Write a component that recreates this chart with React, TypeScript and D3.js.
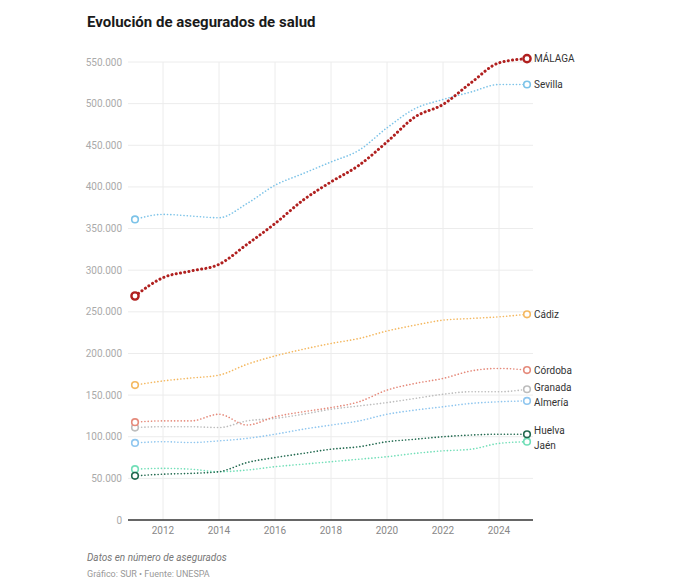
import React from "react";
import * as d3 from "d3";

// Asegurados de salud por provincia (Andalucía), 2011-2025
const years = [2011, 2012, 2013, 2014, 2015, 2016, 2017, 2018, 2019, 2020, 2021, 2022, 2023, 2024, 2025];

const malaga = [269000, 291000, 299000, 307000, 331000, 356000, 384000, 406000, 426000, 454000, 484000, 499000, 525000, 549000, 554000];
const sevilla = [361000, 367000, 365000, 363000, 380000, 402000, 416000, 430000, 444000, 471000, 494000, 505000, 514000, 523000, 523000];
const cadiz = [162000, 167000, 170500, 174000, 187000, 197000, 205000, 212000, 218000, 227000, 234000, 240000, 242000, 244000, 247000];
const cordoba = [117500, 119000, 119000, 127000, 114000, 124000, 130000, 135000, 142000, 156000, 164000, 170000, 179000, 182000, 180000];
const granada = [111000, 112000, 112000, 111000, 119000, 122000, 127000, 133000, 137000, 141000, 146000, 151000, 154000, 154000, 157000];
const almeria = [92500, 94000, 93000, 95000, 98000, 103000, 109000, 114000, 119000, 127000, 132000, 136000, 140000, 142000, 143000];
const huelva = [53000, 55000, 56000, 58000, 69000, 75000, 80000, 85000, 88000, 94000, 97000, 100000, 102000, 103000, 103000];
const jaen = [61000, 62000, 61000, 58000, 60000, 64000, 67000, 70000, 73000, 76000, 80000, 83000, 85000, 92000, 94000];

const provinces = ["MÁLAGA", "Sevilla", "Cádiz", "Córdoba", "Granada", "Almería", "Huelva", "Jaén"];
const seriesValues = [malaga, sevilla, cadiz, cordoba, granada, almeria, huelva, jaen];
const colors = ["#b0201f", "#7cc3e8", "#f4b860", "#e58a7b", "#bdbdbd", "#8fc6ef", "#21694f", "#72dfb8"];

const yTicks = [0, 50000, 100000, 150000, 200000, 250000, 300000, 350000, 400000, 450000, 500000, 550000];
const xTicks = [2012, 2014, 2016, 2018, 2020, 2022, 2024];

const W = 680;
const H = 584;
const plotLeft = 128;
const plotRight = 533;
const font = "Roboto, 'Noto Sans', sans-serif";

export default function App() {
  const x = d3.scaleLinear().domain([2011, 2025]).range([135, 527]);
  const y = d3.scaleLinear().domain([0, 550000]).range([520, 62]);
  const fmt = (v: number) => d3.format(",")(v).replace(/,/g, ".");

  const line = d3
    .line<number>()
    .x((_, i) => x(years[i]))
    .y((d) => y(d))
    .curve(d3.curveMonotoneX);

  // label positions: start at the last value, then push apart so they don't overlap
  const labels = provinces.map((name, i) => {
    const vals = seriesValues[i];
    return { name, i, y: y(vals[vals.length - 1]) };
  });
  labels.sort((a, b) => a.y - b.y);
  const minGap = 15;
  for (let iter = 0; iter < 20; iter++) {
    for (let k = 1; k < labels.length; k++) {
      const a = labels[k - 1];
      const b = labels[k];
      if (b.y - a.y < minGap) {
        const mid = (a.y + b.y) / 2;
        a.y = mid - minGap / 2;
        b.y = mid + minGap / 2;
      }
    }
  }

  return (
    <svg
      width={W}
      height={H}
      style={{ position: "absolute", left: 0, top: 0, background: "#fff" }}
      fontFamily={font}
    >
      <text x={87} y={27} fontSize={15} fontWeight={700} fill="#1a1a1a">
        Evolución de asegurados de salud
      </text>

      {/* vertical grid */}
      {xTicks.map((t) => (
        <line key={"vx" + t} x1={x(t)} x2={x(t)} y1={y(550000)} y2={y(0)} stroke="#ececec" strokeWidth={1} />
      ))}

      {/* horizontal grid + y labels */}
      {yTicks.map((t) => (
        <g key={"y" + t}>
          {t > 0 && <line x1={plotLeft} x2={plotRight} y1={y(t)} y2={y(t)} stroke="#ececec" strokeWidth={1} />}
          <text x={122} y={y(t)} dy="0.35em" textAnchor="end" fontSize={10} fill="#aaaaaa">
            {fmt(t)}
          </text>
        </g>
      ))}

      <line x1={plotLeft} x2={plotRight} y1={y(0)} y2={y(0)} stroke="#333" strokeWidth={1.3} />

      {xTicks.map((t) => (
        <text key={"xt" + t} x={x(t)} y={534} textAnchor="middle" fontSize={10} fill="#888">
          {t}
        </text>
      ))}

      {/* lines */}
      {seriesValues
        .map((vals, i) => ({ vals, i }))
        .reverse()
        .map(({ vals, i }) => {
          const main = i === 0;
          return (
            <g key={"s" + i}>
              <path
                d={line(vals) || ""}
                fill="none"
                stroke={colors[i]}
                strokeWidth={main ? 3 : 1.6}
                strokeDasharray={main ? "0.1 4.2" : "0.1 3.2"}
                strokeLinecap="round"
              />
              {[0, vals.length - 1].map((k) => (
                <circle
                  key={k}
                  cx={x(years[k])}
                  cy={y(vals[k])}
                  r={main ? 3.6 : 3.3}
                  fill="#fff"
                  stroke={colors[i]}
                  strokeWidth={main ? 2.4 : 1.6}
                />
              ))}
            </g>
          );
        })}

      {labels.map((l) => (
        <text key={"l" + l.i} x={534} y={l.y} dy="0.35em" fontSize={10} fill="#333">
          {l.name}
        </text>
      ))}

      <text x={87} y={561} fontSize={10} fontStyle="italic" fill="#777">
        Datos en número de asegurados
      </text>
      <text x={87} y={577} fontSize={9} fill="#999">
        Gráfico: SUR • Fuente: UNESPA
      </text>
    </svg>
  );
}
